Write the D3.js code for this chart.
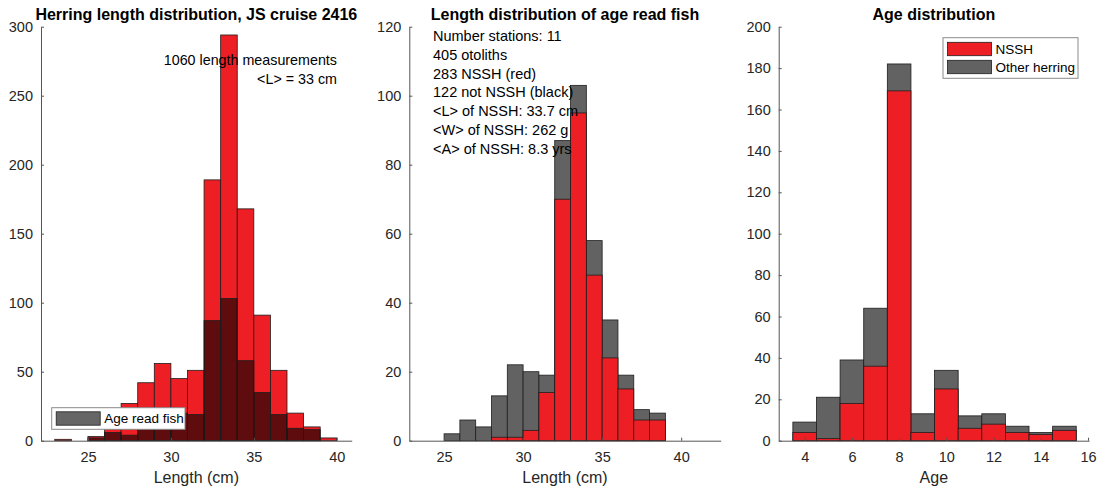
<!DOCTYPE html>
<html>
<head>
<meta charset="utf-8">
<script src="https://cdn.jsdelivr.net/npm/d3@7"></script>
<style>
  body { margin: 0; background: #fff; }
  svg { display: block; font-family: "Liberation Sans", Arial, Helvetica, sans-serif; }
  .domain, .tick line { stroke: #555; }
</style>
</head>
<body>
<svg id="chart" width="1101" height="490"></svg>
<script>
// Length bins (left edge, cm), 1 cm wide
const lengthBins = [23, 24, 25, 26, 27, 28, 29, 30, 31, 32, 33, 34, 35, 36, 37, 38, 39];
// All length measurements per bin
const allFishCounts = [1, 0, 3, 10, 27, 42, 56, 45, 51, 189, 294, 168, 91, 51, 20, 10, 2];
// Age-read fish per length bin (all herring)
const ageReadCounts = [0, 0, 2, 6, 4, 13, 22, 20, 19, 87, 103, 58, 35, 19, 9, 8, 0];
// Age-read fish per length bin identified as NSSH
const nsshLengthCounts = [0, 0, 0, 0, 0, 1, 1, 3, 14, 70, 95, 48, 24, 15, 6, 6, 0];

// Age classes (years)
const ages = [4, 5, 6, 7, 8, 9, 10, 11, 12, 13, 14, 15];
const ageTotalCounts = [9, 21, 39, 64, 182, 13, 34, 12, 13, 7, 4, 7];
const ageNsshCounts = [4, 1, 18, 36, 169, 4, 25, 6, 8, 4, 3, 5];

// Tick values
const lengthTicks = [25, 30, 35, 40];
const ageTicks = [4, 6, 8, 10, 12, 14, 16];
const countTicksAll = [0, 50, 100, 150, 200, 250, 300];
const countTicksRead = [0, 20, 40, 60, 80, 100, 120];
const countTicksAge = [0, 20, 40, 60, 80, 100, 120, 140, 160, 180, 200];

// Text
const titles = ["Herring length distribution, JS cruise 2416", "Length distribution of age read fish", "Age distribution"];
const xLabels = ["Length (cm)", "Length (cm)", "Age"];
const lengthNotes = ["1060 length measurements", "<L> = 33 cm"];
const statsLines = [
  "Number stations: 11",
  "405 otoliths",
  "283 NSSH (red)",
  "122 not NSSH (black)",
  "<L> of NSSH: 33.7 cm",
  "<W> of NSSH: 262 g",
  "<A> of NSSH: 8.3 yrs"
];

const RED = "#ed1f24";
const GREY = "#626262";
const EDGE = "#1e1e1e";

const svg = d3.select("#chart");
const plotTop = 26.7, plotBottom = 440.7;

const panels = [
  { left: 41, right: 351.7, xDom: [22.17, 40.9], yMax: 300, xTicks: lengthTicks, yTicks: countTicksAll },
  { left: 409.3, right: 720.7, xDom: [22.8, 42.5], yMax: 120, xTicks: lengthTicks, yTicks: countTicksRead },
  { left: 778.7, right: 1089, xDom: [2.9, 16.04], yMax: 200, xTicks: ageTicks, yTicks: countTicksAge }
];

panels.forEach(p => {
  p.x = d3.scaleLinear().domain(p.xDom).range([p.left, p.right]);
  p.y = d3.scaleLinear().domain([0, p.yMax]).range([plotBottom, plotTop]);
  p.g = svg.append("g");
});

function bars(g, x, y, starts, width, values, fill, opacity) {
  const data = starts.map((s, i) => ({ s, v: values[i] })).filter(d => d.v > 0);
  g.append("g").selectAll("rect").data(data).join("rect")
    .attr("x", d => x(d.s))
    .attr("width", d => x(d.s + width) - x(d.s))
    .attr("y", d => y(d.v))
    .attr("height", d => y(0) - y(d.v))
    .attr("fill", fill)
    .attr("fill-opacity", opacity)
    .attr("stroke", EDGE)
    .attr("stroke-width", 0.8);
}

// Panel 1: all lengths with age-read fish overlaid
{
  const p = panels[0];
  bars(p.g, p.x, p.y, lengthBins, 1, allFishCounts, RED, 1);
  bars(p.g, p.x, p.y, lengthBins, 1, ageReadCounts, "#000", 0.6);
}
// Panel 2: age-read fish, NSSH on top of the total
{
  const p = panels[1];
  bars(p.g, p.x, p.y, lengthBins, 1, ageReadCounts, GREY, 1);
  bars(p.g, p.x, p.y, lengthBins, 1, nsshLengthCounts, RED, 1);
}
// Panel 3: age distribution
{
  const p = panels[2];
  const ageStarts = ages.map(a => a - 0.5);
  bars(p.g, p.x, p.y, ageStarts, 1, ageTotalCounts, GREY, 1);
  bars(p.g, p.x, p.y, ageStarts, 1, ageNsshCounts, RED, 1);
}

// Axes, titles, axis labels
panels.forEach((p, i) => {
  p.g.append("g")
    .attr("class", "axis")
    .attr("transform", `translate(0,${plotBottom})`)
    .call(d3.axisBottom(p.x).tickValues(p.xTicks).tickSizeInner(-3).tickSizeOuter(0).tickPadding(11));
  p.g.append("g")
    .attr("class", "axis")
    .attr("transform", `translate(${p.left},0)`)
    .call(d3.axisLeft(p.y).tickValues(p.yTicks).tickSizeInner(-3).tickSizeOuter(0).tickPadding(8));
  const cx = (p.left + p.right) / 2;
  svg.append("text")
    .attr("x", cx).attr("y", 20)
    .attr("text-anchor", "middle")
    .attr("font-size", 16).attr("font-weight", "bold")
    .attr("fill", "#000")
    .text(titles[i]);
  svg.append("text")
    .attr("x", cx).attr("y", 483)
    .attr("text-anchor", "middle")
    .attr("font-size", 16)
    .attr("fill", "#262626")
    .text(xLabels[i]);
});
svg.selectAll("g.axis")
  .attr("font-family", null)
  .attr("font-size", 14.5);
svg.selectAll(".tick text").attr("fill", "#262626");

// Panel 1 annotation
svg.append("g").selectAll("text").data(lengthNotes).join("text")
  .attr("x", 337).attr("y", (d, i) => 60 + i * 18.5)
  .attr("dy", "0.35em")
  .attr("text-anchor", "end")
  .attr("font-size", 14.3)
  .attr("fill", "#000")
  .text(d => d);

// Panel 2 statistics block
svg.append("g").selectAll("text").data(statsLines).join("text")
  .attr("x", 433).attr("y", (d, i) => 36 + i * 18.75)
  .attr("dy", "0.35em")
  .attr("font-size", 14.5)
  .attr("fill", "#000")
  .text(d => d);

// Legend helper
function legend(x0, y0, w, h, items) {
  const g = svg.append("g");
  g.append("rect").attr("x", x0).attr("y", y0).attr("width", w).attr("height", h)
    .attr("fill", "#fff").attr("stroke", "#8a8a8a").attr("stroke-width", 1);
  items.forEach(it => {
    g.append("rect").attr("x", x0 + 4.5).attr("y", it.cy - 6.7).attr("width", 44).attr("height", 13.4)
      .attr("fill", it.fill).attr("stroke", EDGE).attr("stroke-width", 0.8);
    g.append("text").attr("x", x0 + 52.5).attr("y", it.cy).attr("dy", "0.35em")
      .attr("font-size", 13.5).attr("fill", "#000").text(it.label);
  });
}
legend(51.7, 407.7, 133.3, 21.6, [{ cy: 418.5, fill: "#666", label: "Age read fish" }]);
legend(943, 37.7, 135, 40.6, [
  { cy: 49, fill: RED, label: "NSSH" },
  { cy: 67, fill: GREY, label: "Other herring" }
]);
</script>
</body>
</html>
